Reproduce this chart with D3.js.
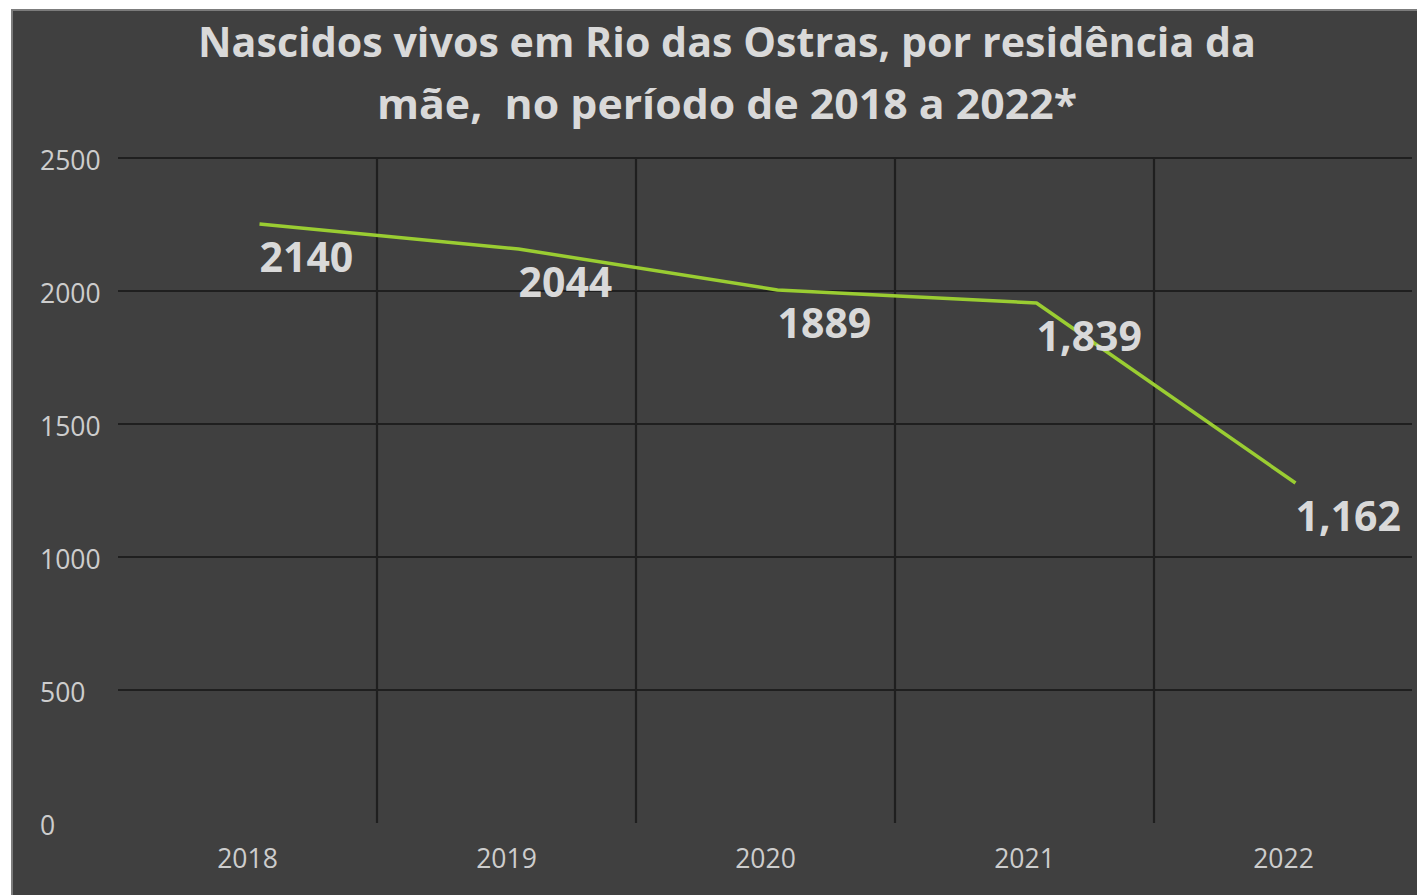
<!DOCTYPE html>
<html>
<head>
<meta charset="utf-8">
<script src="https://cdn.jsdelivr.net/npm/d3@7"></script>
<style>
  html, body { margin: 0; padding: 0; background: #ffffff; }
  svg { display: block; }
  text { white-space: pre; }
</style>
</head>
<body>
<svg id="chart" width="1417" height="895"></svg>
<script>
// ---- data ----
const titleLines = ["Nascidos vivos em Rio das Ostras, por residência da", "mãe,  no período de 2018 a 2022*"];
const categories = ["2018", "2019", "2020", "2021", "2022"];
const lineValues = [2252, 2158, 2004, 1955, 1278];
const dataLabels = ["2140", "2044", "1889", "1,839", "1,162"];
const yTicks = [0, 500, 1000, 1500, 2000, 2500];

// ---- layout ----
const W = 1417, H = 895;
const plot = { left: 118, right: 1413, top: 158, bottom: 823 };
const pointShift = 12;

const svg = d3.select("#chart");

// chart frame
svg.append("rect")
  .attr("x", 12).attr("y", 10)
  .attr("width", W - 12 + 2).attr("height", H - 10 + 2)
  .attr("fill", "#404040")
  .attr("stroke", "#7c7c7c").attr("stroke-width", 2);

const x = d3.scaleBand().domain(categories).range([plot.left, plot.right]).padding(0);
const y = d3.scaleLinear().domain([0, 2500]).range([plot.bottom, plot.top]);

// horizontal gridlines (not at 0)
svg.append("g").selectAll("line")
  .data(yTicks.filter(d => d > 0))
  .join("line")
  .attr("x1", plot.left).attr("x2", plot.right - 1)
  .attr("y1", d => y(d)).attr("y2", d => y(d))
  .attr("stroke", "#1f1f1f").attr("stroke-width", 2.2);

// vertical gridlines at category boundaries
svg.append("g").selectAll("line")
  .data(categories.slice(1))
  .join("line")
  .attr("x1", d => x(d)).attr("x2", d => x(d))
  .attr("y1", plot.top).attr("y2", plot.bottom)
  .attr("stroke", "#1f1f1f").attr("stroke-width", 2.2);

// y axis
const yAxis = svg.append("g")
  .attr("transform", `translate(${plot.left},0)`)
  .call(d3.axisLeft(y).tickValues(yTicks).tickSize(0).tickFormat(d3.format("d")));
yAxis.select(".domain").remove();
yAxis.selectAll("text")
  .attr("x", 40 - plot.left)
  .attr("dy", "0.42em")
  .attr("text-anchor", "start")
  .attr("fill", "#cdcdcd")
  .style("font-family", "'Open Sans', sans-serif")
  .style("font-size", "26.5px");

// x axis
const xAxis = svg.append("g")
  .attr("transform", `translate(0,${plot.bottom})`)
  .call(d3.axisBottom(x).tickSize(0));
xAxis.select(".domain").remove();
xAxis.selectAll("text")
  .attr("y", 45)
  .attr("dy", 0)
  .attr("fill", "#cdcdcd")
  .style("font-family", "'Open Sans', sans-serif")
  .style("font-size", "26.5px");

// line
const pts = categories.map((c, i) => ({ c, v: lineValues[i], label: dataLabels[i] }));
const px = d => x(d.c) + x.bandwidth() / 2 + pointShift;
svg.append("path")
  .datum(pts)
  .attr("fill", "none")
  .attr("stroke", "#9acd32")
  .attr("stroke-width", 3.5)
  .attr("stroke-linejoin", "round")
  .attr("d", d3.line().x(px).y(d => y(d.v)));

// data labels
svg.append("g").selectAll("text")
  .data(pts)
  .join("text")
  .attr("x", d => px(d))
  .attr("y", d => y(d.v) + 48)
  .attr("text-anchor", "start")
  .attr("fill", "#d9d9d9")
  .style("font-family", "'Open Sans', sans-serif")
  .style("font-weight", "bold")
  .style("font-size", "41px")
  .text(d => d.label);

// title
const titleWidths = [1058, 700];
const titleBase = [57, 119];
svg.append("g").selectAll("text")
  .data(titleLines)
  .join("text")
  .attr("x", 727)
  .attr("y", (d, i) => titleBase[i])
  .attr("text-anchor", "middle")
  .attr("fill", "#d9d9d9")
  .style("font-family", "'Open Sans', sans-serif")
  .style("font-weight", "bold")
  .style("font-size", "41px")
  .text(d => d)
  .attr("textLength", (d, i) => titleWidths[i])
  .attr("lengthAdjust", "spacingAndGlyphs");
</script>
</body>
</html>
